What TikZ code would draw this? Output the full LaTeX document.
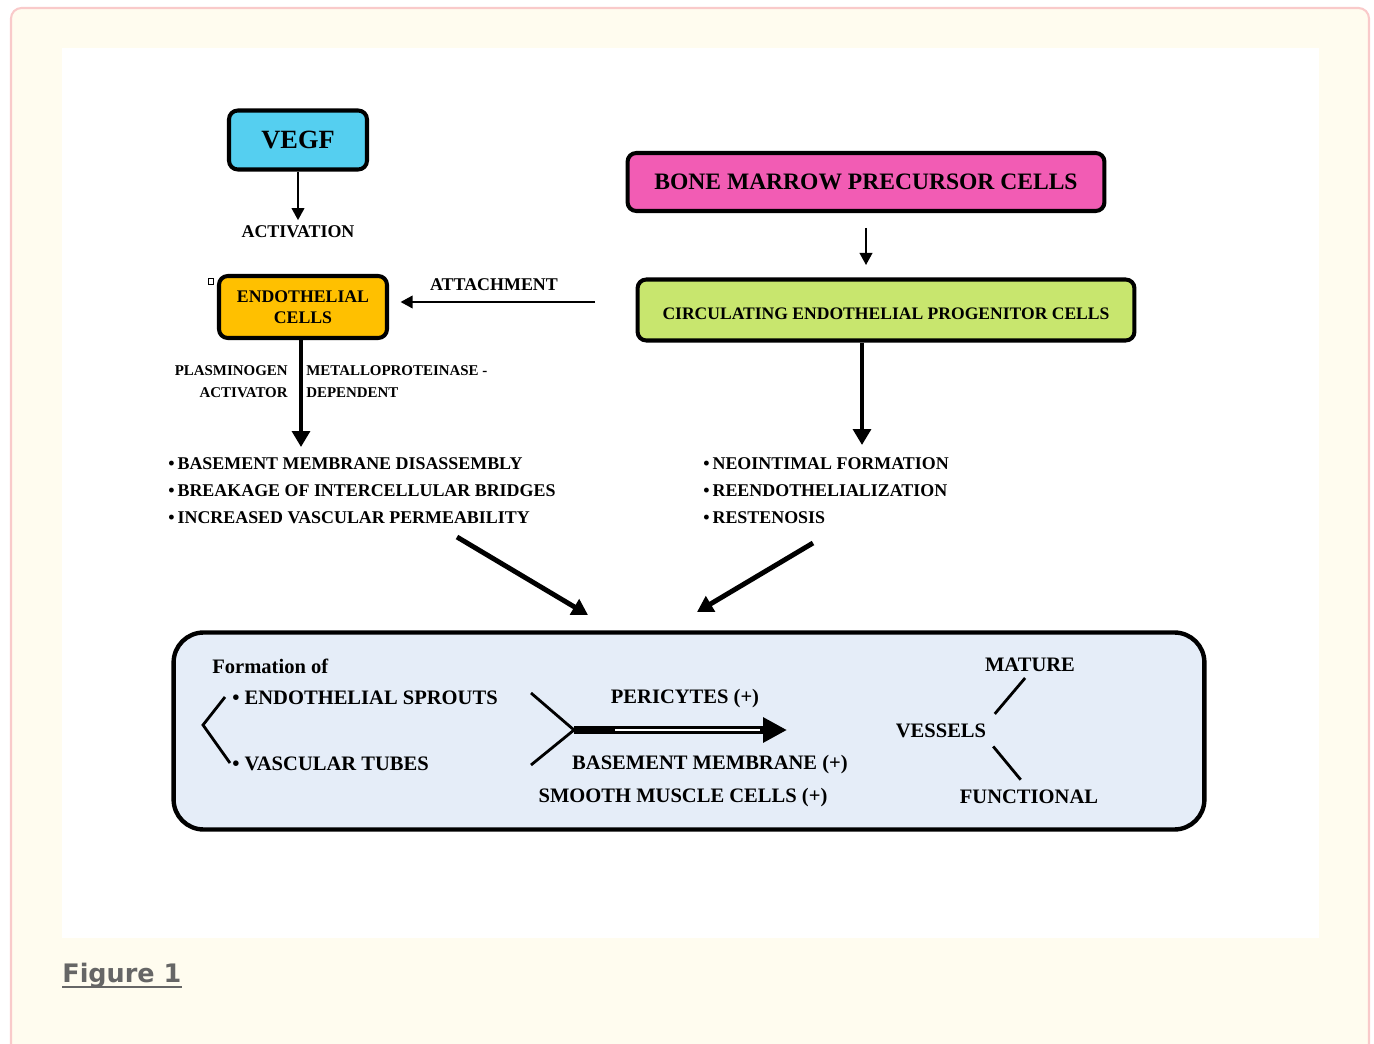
\documentclass[tikz,border=0pt]{standalone}
\usepackage{fontspec}
\setmainfont{Liberation Serif}
\newfontfamily\capfont{DejaVu Sans}
\usetikzlibrary{arrows.meta}
\definecolor{pagebg}{HTML}{FFFCEF}
\definecolor{pageedge}{HTML}{F9CACA}
\definecolor{capgray}{HTML}{666666}
\definecolor{vegfc}{HTML}{55CFF0}
\definecolor{endoc}{HTML}{FFC000}
\definecolor{bmpcc}{HTML}{F25CB4}
\definecolor{cepcc}{HTML}{C8E66E}
\definecolor{formc}{HTML}{E5EDF8}

\begin{document}
\begin{tikzpicture}[x=0.02cm,y=-0.02cm,
    box/.style={draw,line width=2.3pt,rounded corners=5pt,inner sep=0pt},
    lbl/.style={inner sep=0pt,font=\bfseries\fontsize{10.2}{15.3}\selectfont},
    slbl/.style={inner sep=0pt,font=\bfseries\fontsize{8.5}{12.5}\selectfont},
    blbl/.style={inner sep=0pt,font=\bfseries\fontsize{11.7}{14}\selectfont},
    thinarr/.style={line width=1.7pt,-{Triangle[length=7pt,width=7pt]}},
    thickarr/.style={line width=2.8pt,-{Triangle[length=9pt,width=10pt]}},
    tick/.style={line width=1.6pt}]

\useasboundingbox (0,0) rectangle (1374,1044);
\begin{scope}
  \clip (0,0) rectangle (1374,1044);
  \filldraw[fill=pagebg,draw=pageedge,line width=1.2pt,rounded corners=6pt] (11,8) rectangle (1369,1090);
\end{scope}
\fill[white] (62,48) rectangle (1319,938);

% top left column
\node[box,fill=vegfc,minimum width=2.76cm,minimum height=1.18cm,
      font=\bfseries\fontsize{15}{18}\selectfont] (vegf) at (298,140) {VEGF};
\node[lbl] (activ) at (298,232) {ACTIVATION};
\node[box,fill=endoc,minimum width=3.36cm,minimum height=1.24cm,align=center,
      font=\bfseries\fontsize{10.1}{11.9}\selectfont] (endo) at (303,307) {ENDOTHELIAL\\CELLS};
\draw[line width=0.4pt] (208,278) rectangle (213,284);

% top right column
\node[box,fill=bmpcc,minimum width=9.54cm,minimum height=1.16cm,
      font=\bfseries\fontsize{13.4}{16}\selectfont] (bmpc) at (866,182) {BONE MARROW PRECURSOR CELLS};
\node[box,fill=cepcc,minimum width=9.94cm,minimum height=1.22cm,text height=11pt,text depth=0pt,
      font=\bfseries\fontsize{10}{12}\selectfont] (cepc) at (886,310) {CIRCULATING ENDOTHELIAL PROGENITOR CELLS};
\node[lbl] (attach) at (494,285) {ATTACHMENT};

\coordinate (atail) at (595,302);
\coordinate (ltop) at (301,447);
\coordinate (rtop) at (862,445);

\draw[thinarr,shorten >=3pt] (vegf) -- (activ);
\draw[thinarr,shorten >=6.5pt] (atail) -- (atail -| endo.east);
\draw[thinarr,shorten <=8.5pt,shorten >=7pt] (bmpc.south) -- (bmpc.south |- cepc.north);
\draw[thickarr] (ltop |- endo.south) -- (ltop);
\draw[thickarr] (rtop |- cepc.south) -- (rtop);

\node[slbl,anchor=east,align=right] (plasm) at (288,382) {PLASMINOGEN\\ACTIVATOR};
\node[slbl,anchor=west,align=left] (metal) at (306,382) {METALLOPROTEINASE -\\DEPENDENT};

% effect lists
\node[lbl,anchor=west,align=left] (llist) at (168,491)
  {\textbullet\,BASEMENT MEMBRANE DISASSEMBLY\\
   \textbullet\,BREAKAGE OF INTERCELLULAR BRIDGES\\
   \textbullet\,INCREASED VASCULAR PERMEABILITY};
\node[lbl,anchor=west,align=left] (rlist) at (703,491)
  {\textbullet\,NEOINTIMAL FORMATION\\
   \textbullet\,REENDOTHELIALIZATION\\
   \textbullet\,RESTENOSIS};

\coordinate (lfoot) at (457,537);
\coordinate (ltip) at (588,615);
\coordinate (rfoot) at (813,543);
\coordinate (rtip) at (697,612);
\draw[thickarr] (lfoot) -- (ltip);
\draw[thickarr] (rfoot) -- (rtip);

% formation box
\node[draw,line width=2.5pt,rounded corners=0.6cm,fill=formc,
      minimum width=20.62cm,minimum height=3.94cm] (formbox) at (689,731) {};
\node[blbl,anchor=west] (formof) at (212,666) {Formation of};
\node[blbl,anchor=west] (sprout) at (232,698) {\textbullet\ ENDOTHELIAL SPROUTS};
\node[blbl,anchor=west] (tubes) at (232,764) {\textbullet\ VASCULAR TUBES};
\draw[tick] (225,697) -- (203,725) -- (230,763);

\node[blbl] (peri) at (685,699) {PERICYTES (+)};
\node[blbl] (bm) at (710,765) {BASEMENT MEMBRANE (+)};
\node[blbl] (smc) at (683,798) {SMOOTH MUSCLE CELLS (+)};

\coordinate (fork) at (574,730);
\coordinate (fup) at (531,693);
\coordinate (fdown) at (531,765);
\coordinate (ftip) at (787,730);
\draw[tick] (fup) -- (fork) -- (fdown);
\draw[line width=4pt,-{Triangle[length=13.6pt,width=13.6pt]}] (fork) -- (ftip);
\draw[white,line width=0.9pt] (615,730) -- (760,730);

\node[blbl] (vess) at (941,731) {VESSELS};
\node[blbl] (mature) at (1030,665) {MATURE};
\node[blbl] (funct) at (1029,797) {FUNCTIONAL};
\draw[tick,shorten <=7.3pt,shorten >=4.3pt] (vess.north east) -- (mature.south);
\draw[tick,shorten <=6pt,shorten >=7.4pt] (vess.south east) -- (funct.north);

% caption
\node[inner sep=0pt,anchor=base west,text=capgray,
      font=\capfont\bfseries\fontsize{14.5}{17}\selectfont] (figcap) at (62,982) {Figure 1};
\draw[capgray,line width=1.2pt] ([yshift=-3pt]figcap.base west) -- ([yshift=-3pt]figcap.base east);

\end{tikzpicture}
\end{document}
